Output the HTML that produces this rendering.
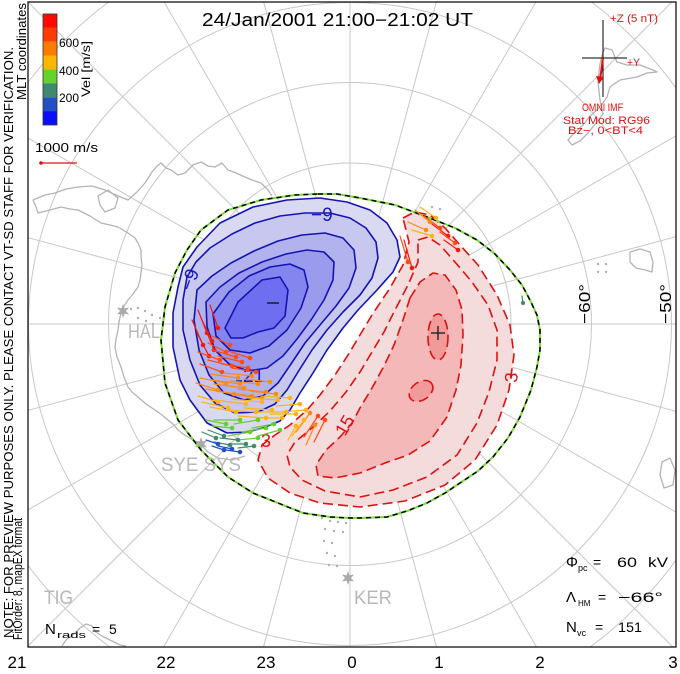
<!DOCTYPE html>
<html><head><meta charset="utf-8"><style>
html,body{margin:0;padding:0;background:#fff;width:680px;height:674px;overflow:hidden;}
svg{display:block;}
text{font-family:"Liberation Sans",Arial,sans-serif;}
</style></head><body>
<svg width="680" height="674" viewBox="0 0 680 674" xmlns="http://www.w3.org/2000/svg">
<rect width="680" height="674" fill="#fff"/>
<g>
 <g stroke="#c8c8c8" stroke-width="1" fill="none">
  <line x1="28" y1="324" x2="676" y2="324"/>
  <line x1="28" y1="237.7" x2="676" y2="411.3"/>
  <line x1="28" y1="138.1" x2="676" y2="512.2"/>
  <line x1="28" y1="2" x2="673" y2="647"/>
  <line x1="164.1" y1="2" x2="536.5" y2="647"/>
  <line x1="263.7" y1="2" x2="436.5" y2="647"/>
  <line x1="350" y1="2" x2="350" y2="647"/>
  <line x1="436.3" y1="2" x2="263.5" y2="647"/>
  <line x1="535.9" y1="2" x2="163.5" y2="647"/>
  <line x1="672" y1="2" x2="28" y2="646"/>
  <line x1="676" y1="135.8" x2="28" y2="509.9"/>
  <line x1="676" y1="236.7" x2="28" y2="410.3"/>
  <circle cx="350" cy="324" r="80.5"/>
  <circle cx="350" cy="324" r="161"/>
  <circle cx="350" cy="324" r="241.5"/>
  <circle cx="350" cy="324" r="321.5"/>
  <path d="M28,82.5 A402.5,402.5 0 0,1 108.5,2"/>
  <path d="M591.5,2 A402.5,402.5 0 0,1 676,87.9"/>
  <path d="M676,560.1 A402.5,402.5 0 0,1 590.2,647"/>
  <path d="M109.8,647 A402.5,402.5 0 0,1 28,565.5"/>
 </g>
 <!-- coastlines -->
 <g stroke="#b4b4b4" stroke-width="1.3" fill="none" stroke-linejoin="round">
  <path d="M33,200 L45,195 L55,193 L66,189 L78,187 L92,186 L105,190 L118,196 L128,200 L137,192 L145,183 L152,172 L157,166 L161,163 L166,168 L171,170 L178,175 L185,173 L193,165 L201,162 L208,166 L215,167 L222,163 L228,170 L236,173 L245,177 L252,180 L261,183 L268,190 L272,196"/>
  <path d="M33,200 L36,207 L38,213 L50,210 L61,207 L70,209 L78,210 L90,216 L101,223 L110,225 L118,227 L128,233 L135,238 L138,243 L141,250 L141,257 L142,265 L141,273 L140,280 L138,287 L133,294 L128,300 L124,306 L121,313 L119,322 L118,330 L116,339 L115,347 L117,357 L121,367 L124,377 L128,387 L133,393 L138,397 L146,404 L155,410 L162,415 L168,420 L174,425 L178,430 L183,434 L188,437 L194,441 L200,444 L208,452 L218,458 L232,460 L245,456"/>
  <path d="M98,196 L108,190 L118,198 L115,208 L105,212 L100,205 Z"/>
  <path d="M62,646 L66,640 L74,634 L80,628 L86,624 L92,626 L96,632 L102,636 L110,640 L120,645 L126,646"/>
  <path d="M605,48 L612,50 L617,62 L627,65 L640,65 L653,70 L657,72 L647,73 L637,77 L620,80 L610,87 L607,97 L603,103 L597,110 L590,116 L583,125 L575,132 L568,140 L572,145 L580,141 L588,133 L596,123 L603,114 L600,100 L598,82 L600,64 L603,52 Z"/>
  <path d="M630,252 L640,249 L650,252 L653,262 L652,272 L645,270 L636,268 L630,262 Z"/>
  <path d="M662,462 L670,458 L675,470 L673,485 L664,488 L660,475 Z"/>
  <path d="M280,435 L287,432 L292,438 L285,442 Z"/>
 </g>
 <!-- gray dots -->
 <g fill="#b0b0b0">
  <circle cx="131" cy="309" r="1.2"/><circle cx="138" cy="308" r="1.2"/><circle cx="145" cy="311" r="1.2"/><circle cx="152" cy="315" r="1.2"/><circle cx="138" cy="318" r="1.2"/><circle cx="146" cy="321" r="1.2"/><circle cx="153" cy="324" r="1.2"/><circle cx="160" cy="318" r="1.2"/>
  <circle cx="322" cy="518" r="1.2"/><circle cx="330" cy="521" r="1.2"/><circle cx="338" cy="522" r="1.2"/><circle cx="346" cy="523" r="1.2"/><circle cx="325" cy="529" r="1.2"/><circle cx="334" cy="531" r="1.2"/><circle cx="343" cy="532" r="1.2"/><circle cx="324" cy="541" r="1.2"/><circle cx="332" cy="543" r="1.2"/><circle cx="327" cy="553" r="1.2"/><circle cx="335" cy="556" r="1.2"/><circle cx="329" cy="565" r="1.2"/><circle cx="337" cy="566" r="1.2"/>
  <circle cx="598" cy="264" r="1.2"/><circle cx="606" cy="264" r="1.2"/><circle cx="598" cy="272" r="1.2"/><circle cx="606" cy="272" r="1.2"/>
  <circle cx="432" cy="207" r="1.2"/><circle cx="440" cy="209" r="1.2"/>
 </g>
 <!-- station stars -->
 <g fill="#aaaaaa">
  <polygon transform="translate(123,311)" points="0,-7 1.5,-2.6 6.06,-3.5 3,0 6.06,3.5 1.5,2.6 0,7 -1.5,2.6 -6.06,3.5 -3,0 -6.06,-3.5 -1.5,-2.6"/>
  <polygon transform="translate(201,444)" points="0,-7 1.5,-2.6 6.06,-3.5 3,0 6.06,3.5 1.5,2.6 0,7 -1.5,2.6 -6.06,3.5 -3,0 -6.06,-3.5 -1.5,-2.6"/>
  <polygon transform="translate(348,578)" points="0,-7 1.5,-2.6 6.06,-3.5 3,0 6.06,3.5 1.5,2.6 0,7 -1.5,2.6 -6.06,3.5 -3,0 -6.06,-3.5 -1.5,-2.6"/>
 </g>
 <g fill="#b8b8b8" font-size="19">
  <text x="128" y="338" textLength="32" lengthAdjust="spacingAndGlyphs">HAL</text>
  <text x="161" y="471" textLength="80" lengthAdjust="spacingAndGlyphs">SYE SYS</text>
  <text x="354" y="604" textLength="38" lengthAdjust="spacingAndGlyphs">KER</text>
  <text x="44" y="604" textLength="29" lengthAdjust="spacingAndGlyphs">TIG</text>
 </g>

 <!-- white gap between cells -->
 <path fill="#fff" d="M398,238 L402,256 L393,272 L377,290 L358,310 L343,328 L327,350 L313,373 L300,393 L290,410 L280,421 L263,428 L255,440 L262,447 L275,437 L290,427 L307,412 L320,397 L335,377 L348,357 L360,337 L372,317 L390,290 L404,266 L410,242 L405,222 Z"/>

 <!-- blue cell -->
 <g stroke="#1414b4" stroke-width="1.6" stroke-linejoin="round">
  <path fill="#d9d9f2" d="M178,287 L173,313 L173,347 L180,380 L190,400 L207,423 L227,433 L247,432 L263,428 L280,421 L290,410 L300,393 L313,373 L327,350 L343,328 L358,310 L377,290 L393,272 L400,257 L397,240 L387,223 L370,210 L347,202 L320,198 L287,200 L253,207 L220,223 L197,247 L183,267 Z"/>
  <path fill="#c7c7f0" d="M187,277 L183,300 L183,330 L190,360 L200,385 L215,403 L235,413 L258,412 L275,404 L287,390 L298,372 L312,350 L327,330 L343,312 L360,295 L372,278 L378,258 L376,242 L366,228 L350,218 L330,213 L305,213 L280,216 L255,223 L232,234 L210,248 L196,262 Z"/>
  <path fill="#b2b2ef" d="M197,290 L194,320 L199,350 L209,375 L224,393 L244,400 L263,396 L278,383 L291,364 L305,343 L320,325 L336,306 L349,288 L356,268 L354,250 L343,238 L325,233 L302,235 L278,241 L254,251 L231,263 L212,276 Z"/>
  <path fill="#9b9bee" d="M206,302 L207,327 L215,350 L229,364 L248,371 L267,368 L283,356 L297,339 L311,320 L324,300 L333,280 L334,262 L324,252 L307,250 L286,254 L262,262 L239,273 L220,287 Z"/>
  <path fill="#8585ef" d="M213,314 L216,336 L230,350 L250,353 L269,346 L287,330 L301,308 L308,287 L304,270 L290,264 L270,267 L249,276 L229,292 Z"/>
  <path fill="#6e6ef1" d="M225,328 L231,338 L243,338 L258,332 L274,328 L285,316 L288,290 L280,277 L262,280 L238,302 Z"/>
 </g>
 <line x1="267" y1="303" x2="279" y2="303" stroke="#222" stroke-width="1.6"/>

 <!-- red cell -->
 <g stroke="#e01010" stroke-width="1.6" stroke-dasharray="10 5" stroke-linejoin="round">
  <path fill="#f4dcdc" d="M403,218 L415,212 L430,215 L445,228 L460,245 L478,265 L497,295 L510,325 L514,355 L509,390 L497,425 L475,460 L445,485 L405,501 L360,507 L320,503 L290,493 L268,478 L258,460 L262,445 L275,435 L290,425 L307,410 L320,395 L335,375 L348,355 L360,335 L372,315 L390,288 L403,265 L409,242 Z"/>
  <path fill="none" d="M418,240 L428,237 L440,245 L455,262 L472,282 L488,305 L497,330 L497,360 L489,392 L477,423 L457,455 L427,477 L393,490 L360,497 L325,491 L302,480 L290,467 L287,455 L295,442 L312,428 L330,411 L346,392 L360,372 L372,352 L384,332 L395,310 L408,285 L418,262 Z"/>
  <path fill="#f4b8b8" d="M410,298 L420,282 L433,273 L445,275 L456,290 L462,310 L463,335 L461,365 L456,390 L447,417 L430,441 L408,455 L385,463 L360,473 L335,478 L318,476 L316,465 L326,450 L340,437 L352,423 L360,408 L372,388 L384,366 L394,345 L403,320 Z"/>
  <ellipse cx="438" cy="337" rx="10" ry="23" fill="#f09a9a"/>
  <ellipse cx="421" cy="391" rx="13" ry="9" fill="#f09a9a" transform="rotate(-35 421 391)"/>
 </g>
 <g stroke="#222" stroke-width="1.4"><line x1="431" y1="333" x2="445" y2="333"/><line x1="438" y1="326" x2="438" y2="340"/></g>

 <!-- contour labels -->
 <g fill="#1818c0" font-size="19">
  <text x="311" y="221">−9</text>
  <text transform="translate(192,292) rotate(-70)">−9</text>
  <text x="243" y="382">21</text>
 </g>
 <line x1="236" y1="381" x2="242" y2="381" stroke="#1818c0" stroke-width="1.5"/>
 <g fill="#e01010" font-size="18">
  <text transform="translate(345,437) rotate(-60)">15</text>
  <text transform="translate(517,383) rotate(-85)">3</text>
  <text x="261" y="447">3</text>
 </g>

 <!-- HM boundary -->
 <path d="M318,194 L337,194 L360,198 L395,205 L427,217 L455,228 L477,240 L495,254 L510,270 L522,285 L530,300 L537,315 L540,330 L540,350 L537,367 L531,390 L520,417 L508,438 L493,457 L478,471 L460,483 L445,493 L427,503 L407,511 L387,517 L360,518 L350,518 L330,517 L303,513 L278,503 L253,493 L228,477 L201,450 L178,420 L165,383 L161,340 L165,307 L175,273 L187,250 L201,230 L228,210 L261,200 L295,195 Z" fill="none" stroke="#77dd33" stroke-width="2"/>
 <path d="M318,194 L337,194 L360,198 L395,205 L427,217 L455,228 L477,240 L495,254 L510,270 L522,285 L530,300 L537,315 L540,330 L540,350 L537,367 L531,390 L520,417 L508,438 L493,457 L478,471 L460,483 L445,493 L427,503 L407,511 L387,517 L360,518 L350,518 L330,517 L303,513 L278,503 L253,493 L228,477 L201,450 L178,420 L165,383 L161,340 L165,307 L175,273 L187,250 L201,230 L228,210 L261,200 L295,195 Z" fill="none" stroke="#000" stroke-width="1.5" stroke-dasharray="5 4"/>

 <!-- vectors -->
 <g stroke-width="1.2" stroke-linecap="round">
  <g stroke="#f01a10" fill="#f01a10">
   <line x1="207" y1="333" x2="198" y2="310"/><circle cx="207" cy="333" r="1.7"/>
   <line x1="212" y1="341" x2="201" y2="318"/><circle cx="212" cy="341" r="1.7"/>
   <line x1="214" y1="350" x2="204" y2="325"/><circle cx="214" cy="350" r="1.7"/>
   <line x1="203" y1="345" x2="192" y2="320"/><circle cx="203" cy="345" r="1.7"/>
   <line x1="218" y1="328" x2="210" y2="305"/><circle cx="218" cy="328" r="1.7"/>
   <line x1="209" y1="356" x2="197" y2="333"/><circle cx="209" cy="356" r="1.7"/>
   <line x1="458" y1="250" x2="444" y2="240"/><circle cx="458" cy="250" r="1.7"/>
   <line x1="448" y1="236" x2="432" y2="224"/><circle cx="448" cy="236" r="1.7"/>
   <line x1="412" y1="268" x2="404" y2="240"/><circle cx="412" cy="268" r="1.7"/>
  </g>
  <g stroke="#ff4a12" fill="#ff4a12">
   <line x1="226" y1="352" x2="208" y2="343"/><circle cx="226" cy="352" r="1.7"/>
   <line x1="236" y1="357" x2="212" y2="350"/><circle cx="236" cy="357" r="1.7"/>
   <line x1="232" y1="366" x2="208" y2="360"/><circle cx="232" cy="366" r="1.7"/>
   <line x1="242" y1="362" x2="218" y2="356"/><circle cx="242" cy="362" r="1.7"/>
   <line x1="248" y1="368" x2="222" y2="364"/><circle cx="248" cy="368" r="1.7"/>
   <line x1="222" y1="372" x2="200" y2="364"/><circle cx="222" cy="372" r="1.7"/>
   <line x1="220" y1="360" x2="198" y2="352"/><circle cx="220" cy="360" r="1.7"/>
   <line x1="230" y1="345" x2="212" y2="336"/><circle cx="230" cy="345" r="1.7"/>
   <line x1="250" y1="358" x2="228" y2="351"/><circle cx="250" cy="358" r="1.7"/>
   <line x1="256" y1="372" x2="232" y2="368"/><circle cx="256" cy="372" r="1.7"/>
   <line x1="318" y1="416" x2="304" y2="437"/><circle cx="318" cy="416" r="1.7"/>
   <line x1="325" y1="420" x2="314" y2="442"/><circle cx="325" cy="420" r="1.7"/>
   <line x1="440" y1="228" x2="424" y2="216"/><circle cx="440" cy="228" r="1.7"/>
   <line x1="455" y1="243" x2="440" y2="232"/><circle cx="455" cy="243" r="1.7"/>
   <line x1="408" y1="262" x2="400" y2="236"/><circle cx="408" cy="262" r="1.7"/>
  </g>
  <g stroke="#ff8a12" fill="#ff8a12">
   <line x1="238" y1="378" x2="210" y2="374"/><circle cx="238" cy="378" r="1.7"/>
   <line x1="252" y1="376" x2="224" y2="373"/><circle cx="252" cy="376" r="1.7"/>
   <line x1="226" y1="383" x2="200" y2="378"/><circle cx="226" cy="383" r="1.7"/>
   <line x1="244" y1="388" x2="214" y2="384"/><circle cx="244" cy="388" r="1.7"/>
   <line x1="258" y1="384" x2="230" y2="381"/><circle cx="258" cy="384" r="1.7"/>
   <line x1="234" y1="394" x2="206" y2="389"/><circle cx="234" cy="394" r="1.7"/>
   <line x1="252" y1="396" x2="222" y2="392"/><circle cx="252" cy="396" r="1.7"/>
   <line x1="266" y1="392" x2="238" y2="389"/><circle cx="266" cy="392" r="1.7"/>
   <line x1="270" y1="382" x2="244" y2="379"/><circle cx="270" cy="382" r="1.7"/>
   <line x1="218" y1="390" x2="196" y2="383"/><circle cx="218" cy="390" r="1.7"/>
   <line x1="262" y1="398" x2="236" y2="395"/><circle cx="262" cy="398" r="1.7"/>
   <line x1="276" y1="394" x2="250" y2="391"/><circle cx="276" cy="394" r="1.7"/>
   <line x1="240" y1="384" x2="212" y2="380"/><circle cx="240" cy="384" r="1.7"/>
   <line x1="310" y1="413" x2="296" y2="432"/><circle cx="310" cy="413" r="1.7"/>
   <line x1="315" y1="425" x2="306" y2="445"/><circle cx="315" cy="425" r="1.7"/>
   <line x1="430" y1="222" x2="415" y2="210"/><circle cx="430" cy="222" r="1.7"/>
   <line x1="426" y1="230" x2="408" y2="222"/><circle cx="426" cy="230" r="1.7"/>
  </g>
  <g stroke="#ffb412" fill="#ffb412">
   <line x1="246" y1="404" x2="214" y2="400"/><circle cx="246" cy="404" r="1.7"/>
   <line x1="262" y1="402" x2="232" y2="399"/><circle cx="262" cy="402" r="1.7"/>
   <line x1="278" y1="400" x2="248" y2="398"/><circle cx="278" cy="400" r="1.7"/>
   <line x1="290" y1="398" x2="264" y2="396"/><circle cx="290" cy="398" r="1.7"/>
   <line x1="228" y1="408" x2="202" y2="402"/><circle cx="228" cy="408" r="1.7"/>
   <line x1="256" y1="412" x2="226" y2="410"/><circle cx="256" cy="412" r="1.7"/>
   <line x1="272" y1="410" x2="244" y2="408"/><circle cx="272" cy="410" r="1.7"/>
   <line x1="300" y1="404" x2="276" y2="406"/><circle cx="300" cy="404" r="1.7"/>
   <line x1="286" y1="412" x2="258" y2="412"/><circle cx="286" cy="412" r="1.7"/>
   <line x1="236" y1="412" x2="210" y2="407"/><circle cx="236" cy="412" r="1.7"/>
   <line x1="266" y1="418" x2="238" y2="416"/><circle cx="266" cy="418" r="1.7"/>
   <line x1="282" y1="418" x2="256" y2="418"/><circle cx="282" cy="418" r="1.7"/>
   <line x1="296" y1="414" x2="270" y2="414"/><circle cx="296" cy="414" r="1.7"/>
   <line x1="218" y1="402" x2="198" y2="396"/><circle cx="218" cy="402" r="1.7"/>
   <line x1="306" y1="410" x2="282" y2="412"/><circle cx="306" cy="410" r="1.7"/>
   <line x1="304" y1="420" x2="292" y2="436"/><circle cx="304" cy="420" r="1.7"/>
   <line x1="296" y1="426" x2="288" y2="440"/><circle cx="296" cy="426" r="1.7"/>
   <line x1="436" y1="218" x2="420" y2="207"/><circle cx="436" cy="218" r="1.7"/>
   <line x1="432" y1="236" x2="412" y2="230"/><circle cx="432" cy="236" r="1.7"/>
  </g>
  <g stroke="#66cc33" fill="#66cc33">
   <line x1="240" y1="420" x2="214" y2="420"/><circle cx="240" cy="420" r="1.7"/>
   <line x1="258" y1="420" x2="234" y2="424"/><circle cx="258" cy="420" r="1.7"/>
   <line x1="266" y1="428" x2="242" y2="432"/><circle cx="266" cy="428" r="1.7"/>
   <line x1="226" y1="424" x2="206" y2="420"/><circle cx="226" cy="424" r="1.7"/>
   <line x1="250" y1="432" x2="228" y2="436"/><circle cx="250" cy="432" r="1.7"/>
   <line x1="232" y1="428" x2="212" y2="426"/><circle cx="232" cy="428" r="1.7"/>
   <line x1="274" y1="424" x2="252" y2="428"/><circle cx="274" cy="424" r="1.7"/>
   <line x1="258" y1="438" x2="238" y2="440"/><circle cx="258" cy="438" r="1.7"/>
   <line x1="280" y1="430" x2="258" y2="436"/><circle cx="280" cy="430" r="1.7"/>
  </g>
  <g stroke="#3f8a6a" fill="#3f8a6a">
   <line x1="238" y1="440" x2="220" y2="438"/><circle cx="238" cy="440" r="1.7"/>
   <line x1="224" y1="436" x2="208" y2="430"/><circle cx="224" cy="436" r="1.7"/>
   <line x1="246" y1="444" x2="230" y2="444"/><circle cx="246" cy="444" r="1.7"/>
   <line x1="230" y1="445" x2="214" y2="442"/><circle cx="230" cy="445" r="1.7"/>
   <line x1="254" y1="446" x2="238" y2="448"/><circle cx="254" cy="446" r="1.7"/>
   <line x1="216" y1="438" x2="202" y2="432"/><circle cx="216" cy="438" r="1.7"/>
   <line x1="523" y1="303" x2="522" y2="296"/><circle cx="523" cy="303" r="1.5"/>
  </g>
  <g stroke="#2050c8" fill="#2050c8">
   <line x1="232" y1="449" x2="218" y2="446"/><circle cx="232" cy="449" r="1.7"/>
   <line x1="218" y1="444" x2="206" y2="440"/><circle cx="218" cy="444" r="1.7"/>
   <line x1="240" y1="452" x2="226" y2="450"/><circle cx="240" cy="452" r="1.7"/>
   <line x1="224" y1="450" x2="212" y2="446"/><circle cx="224" cy="450" r="1.7"/>
  </g>
 </g>
</g>

<!-- frame -->
<rect x="28" y="2" width="648" height="645" fill="none" stroke="#000" stroke-width="1.2"/>

<!-- title -->
<text x="202" y="26" font-size="18" textLength="271" lengthAdjust="spacingAndGlyphs" fill="#000">24/Jan/2001 21:00−21:02 UT</text>

<!-- colour bar -->
<g stroke="none">
 <rect x="43" y="14" width="14" height="13.9" fill="#ff0a00"/>
 <rect x="43" y="27.9" width="14" height="13.9" fill="#ff3c00"/>
 <rect x="43" y="41.8" width="14" height="13.9" fill="#ff7a00"/>
 <rect x="43" y="55.6" width="14" height="13.9" fill="#ffb600"/>
 <rect x="43" y="69.5" width="14" height="13.9" fill="#66d22a"/>
 <rect x="43" y="83.4" width="14" height="13.9" fill="#408870"/>
 <rect x="43" y="97.3" width="14" height="13.9" fill="#2250c4"/>
 <rect x="43" y="111.1" width="14" height="13.9" fill="#0c0cff"/>
</g>
<rect x="43" y="14" width="14" height="111" fill="none" stroke="#333" stroke-width="0.8"/>
<g font-size="12" fill="#000">
 <text x="59" y="47">600</text>
 <text x="59" y="75">400</text>
 <text x="59" y="102">200</text>
 <text transform="translate(90,97) rotate(-90)" textLength="56" lengthAdjust="spacingAndGlyphs">Vel [m/s]</text>
</g>
<text x="35" y="152" font-size="13" textLength="63" lengthAdjust="spacingAndGlyphs">1000 m/s</text>
<line x1="41" y1="163" x2="77" y2="163" stroke="#e01010" stroke-width="1.2"/>
<circle cx="41" cy="163" r="1.8" fill="#e01010"/>

<!-- left rotated notes -->
<g font-size="13" fill="#000">
 <text transform="translate(13,638) rotate(-90)" textLength="591" lengthAdjust="spacingAndGlyphs">NOTE: FOR PREVIEW PURPOSES ONLY. PLEASE CONTACT VT-SD STAFF FOR VERIFICATION.</text>
 <text transform="translate(22,640) rotate(-90)" textLength="122" lengthAdjust="spacingAndGlyphs">FitOrder: 8, mapEX format</text>
 <text transform="translate(26,100) rotate(-90)" textLength="97" lengthAdjust="spacingAndGlyphs">MLT coordinates</text>
</g>

<!-- latitude labels -->
<g font-size="16" fill="#000">
 <text transform="translate(590,324) rotate(-90)" textLength="40" lengthAdjust="spacingAndGlyphs">−60°</text>
 <text transform="translate(671,324) rotate(-90)" textLength="40" lengthAdjust="spacingAndGlyphs">−50°</text>
</g>

<!-- IMF -->
<g stroke="#000" stroke-width="1">
 <line x1="603" y1="20" x2="603" y2="97"/>
 <line x1="582" y1="58" x2="627" y2="58"/>
</g>
<line x1="603" y1="58" x2="600" y2="80" stroke="#e01010" stroke-width="2"/>
<polygon points="596,76 604,77 599,84" fill="#e01010"/>
<g fill="#e01010" font-size="11">
 <text x="610" y="22" textLength="48" lengthAdjust="spacingAndGlyphs">+Z (5 nT)</text>
 <text x="627" y="66" textLength="13" lengthAdjust="spacingAndGlyphs">+Y</text>
 <text x="582" y="111" textLength="41" lengthAdjust="spacingAndGlyphs">OMNI IMF</text>
 <text x="563" y="124" textLength="87" lengthAdjust="spacingAndGlyphs">Stat Mod: RG96</text>
 <text x="568" y="134" textLength="75" lengthAdjust="spacingAndGlyphs">Bz−, 0&lt;BT&lt;4</text>
</g>

<!-- stats -->
<g fill="#000" font-size="14">
 <text x="566" y="567" font-size="15">Φ</text>
 <text x="578" y="571" font-size="9">pc</text>
 <text x="593" y="567">=</text>
 <text x="617" y="567" textLength="20" lengthAdjust="spacingAndGlyphs">60</text>
 <text x="648" y="567" textLength="20" lengthAdjust="spacingAndGlyphs">kV</text>

 <text x="566" y="602" font-size="15">Λ</text>
 <text x="578" y="606" font-size="8">HM</text>
 <text x="598" y="602">=</text>
 <text x="618" y="602" textLength="45" lengthAdjust="spacingAndGlyphs">−66°</text>

 <text x="566" y="632" font-size="15">N</text>
 <text x="577" y="636" font-size="9">vc</text>
 <text x="595" y="632">=</text>
 <text x="618" y="632" textLength="24" lengthAdjust="spacingAndGlyphs">151</text>

 <text x="45" y="634" font-size="15">N</text>
 <text x="57" y="638" font-size="9" textLength="29" lengthAdjust="spacingAndGlyphs">rads</text>
 <text x="92" y="634">=</text>
 <text x="109" y="634">5</text>
</g>

<!-- MLT labels -->
<g font-size="17" fill="#000" text-anchor="middle">
 <text x="17" y="668">21</text>
 <text x="166" y="668">22</text>
 <text x="266" y="668">23</text>
 <text x="352" y="668">0</text>
 <text x="439" y="668">1</text>
 <text x="540" y="668">2</text>
 <text x="673" y="668">3</text>
</g>
</svg>
</body></html>
